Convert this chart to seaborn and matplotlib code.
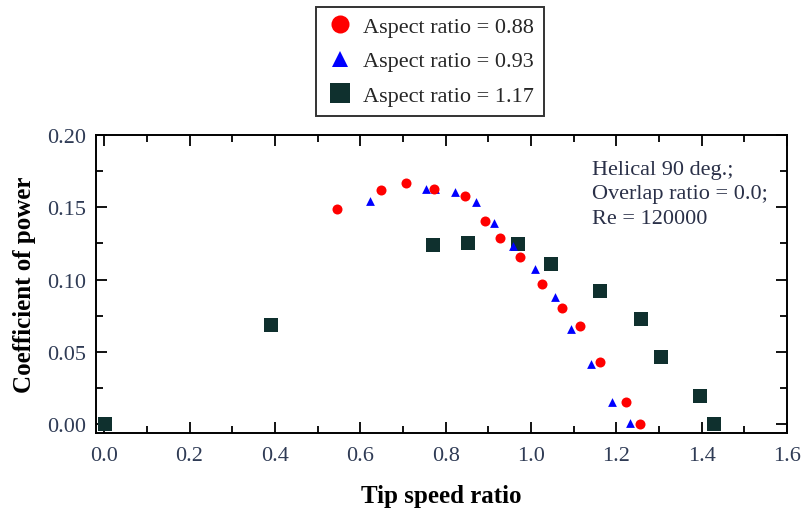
import matplotlib
matplotlib.use("Agg")
import matplotlib.pyplot as plt
from matplotlib.lines import Line2D
from matplotlib.ticker import MultipleLocator, FormatStrFormatter
import seaborn as sns
import pandas as pd

sns.set_theme(style="ticks")
plt.rcParams['font.family'] = ['Liberation Serif', 'DejaVu Serif']

# Data
tsr_088 = [0.546, 0.649, 0.708, 0.774, 0.845, 0.893, 0.927, 0.974, 1.026, 1.073, 1.114, 1.163, 1.222, 1.255]
cp_088 = [0.149, 0.162, 0.1667, 0.1627, 0.158, 0.1407, 0.1285, 0.1157, 0.0972, 0.0806, 0.0676, 0.0428, 0.0155, 0.000]

tsr_093 = [0.622, 0.753, 0.776, 0.821, 0.872, 0.914, 0.958, 1.009, 1.057, 1.095, 1.141, 1.190, 1.232]
cp_093 = [0.1545, 0.1625, 0.1625, 0.1605, 0.1535, 0.139, 0.123, 0.107, 0.088, 0.066, 0.0417, 0.0155, 0.0007]

tsr_117 = [0.002, 0.392, 0.771, 0.852, 0.969, 1.046, 1.161, 1.258, 1.305, 1.396, 1.430]
cp_117 = [0.000, 0.0688, 0.124, 0.125, 0.1243, 0.111, 0.0919, 0.0725, 0.0463, 0.019, 0.000]

labels = ["Aspect ratio = 0.88", "Aspect ratio = 0.93", "Aspect ratio = 1.17"]
x_ticks = [0.0, 0.2, 0.4, 0.6, 0.8, 1.0, 1.2, 1.4, 1.6]
y_ticks = [0.00, 0.05, 0.10, 0.15, 0.20]

c_red = "#ff0000"
c_blue = "#0000ff"
c_dark = "#0f302e"
tick_col = "#2f3b55"

fig = plt.figure(figsize=(8.01, 5.10), dpi=100)
ax = fig.add_axes([0.1199, 0.149, 0.8626, 0.584])

df088 = pd.DataFrame({"x": tsr_088, "y": cp_088})
df093 = pd.DataFrame({"x": tsr_093, "y": cp_093})
df117 = pd.DataFrame({"x": tsr_117, "y": cp_117})

sns.scatterplot(data=df117, x="x", y="y", marker="s", s=108, color=c_dark, linewidth=0, ax=ax, zorder=3)
sns.scatterplot(data=df093, x="x", y="y", marker="^", s=40, color=c_blue, linewidth=0, ax=ax, zorder=4)
sns.scatterplot(data=df088, x="x", y="y", marker="o", s=52, color=c_red, linewidth=0, ax=ax, zorder=5)

ax.set_xlim(-0.019, 1.6)
ax.set_ylim(-0.0063, 0.2)
ax.set_xticks(x_ticks)
ax.set_yticks(y_ticks)
ax.xaxis.set_minor_locator(MultipleLocator(0.1))
ax.yaxis.set_minor_locator(MultipleLocator(0.025))
ax.xaxis.set_major_formatter(FormatStrFormatter('%.1f'))
ax.yaxis.set_major_formatter(FormatStrFormatter('%.2f'))
ax.tick_params(which='both', direction='in', top=True, right=True, color='black', width=1.3)
ax.tick_params(which='major', length=8, labelsize=16, labelcolor=tick_col, pad=7)
ax.tick_params(axis='x', which='major', pad=9)
ax.tick_params(which='minor', length=5)
for sp in ax.spines.values():
    sp.set_linewidth(1.4)
    sp.set_color('black')

ax.set_xlabel("Tip speed ratio", fontsize=18, fontweight='bold', labelpad=14, color='black')
ax.set_ylabel("Coefficient of power", fontsize=18, fontweight='bold', labelpad=8, color='black')

ax.text(0.718, 0.918, "Helical 90 deg.;\nOverlap ratio = 0.0;\nRe = 120000",
        transform=ax.transAxes, ha='left', va='top', fontsize=16, color='#2a3048',
        linespacing=1.4)

handles = [
    Line2D([], [], marker='o', linestyle='', color=c_red, markersize=13, markeredgewidth=0),
    Line2D([], [], marker='^', linestyle='', color=c_blue, markersize=12, markeredgewidth=0),
    Line2D([], [], marker='s', linestyle='', color=c_dark, markersize=15, markeredgewidth=0),
]
leg = fig.legend(handles, labels, loc='upper center', bbox_to_anchor=(0.537, 0.994),
                 fontsize=16, frameon=True, fancybox=False, edgecolor='black',
                 handlelength=1.2, handletextpad=0.45, labelspacing=0.62, borderpad=0.45,
                 borderaxespad=0.2)
leg.get_frame().set_linewidth(1.4)

fig.savefig("out.png", dpi=100)
